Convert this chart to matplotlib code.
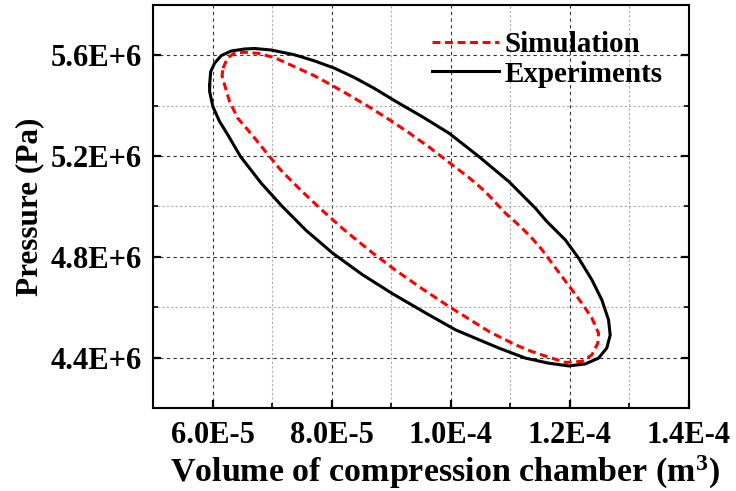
import matplotlib
matplotlib.use('Agg')
import matplotlib.pyplot as plt
from matplotlib.ticker import FixedLocator, MultipleLocator

# 实验 P-V 曲线 (体积 1e-5 m^3, 压力 1e6 Pa)
exp_v = [5.950, 5.967, 6.034, 6.146, 6.313, 6.536, 6.704, 6.983, 7.374, 7.709,
         8.044, 8.379, 8.714, 9.077, 9.523, 9.970, 10.473, 10.975, 11.422, 11.611,
         11.925, 12.147, 12.370, 12.538, 12.650, 12.678, 12.621, 12.482, 12.260, 11.980,
         11.645, 11.255, 10.807, 10.082, 9.580, 9.020, 8.518, 8.015, 7.570, 7.178,
         6.821, 6.469, 6.256, 6.117, 6.005, 5.950, 5.950]
exp_p = [5.483, 5.535, 5.569, 5.599, 5.617, 5.625, 5.627, 5.621, 5.602, 5.578,
         5.549, 5.512, 5.469, 5.417, 5.356, 5.291, 5.198, 5.099, 4.993, 4.941,
         4.867, 4.795, 4.709, 4.629, 4.550, 4.490, 4.438, 4.398, 4.375, 4.367,
         4.378, 4.398, 4.438, 4.510, 4.577, 4.654, 4.729, 4.815, 4.905, 4.998,
         5.091, 5.198, 5.284, 5.337, 5.396, 5.456, 5.483]

# 仿真 P-V 曲线
sim_v = [6.173, 6.256, 6.369, 6.536, 6.759, 7.038, 7.429, 7.709, 7.988, 8.323,
         8.658, 8.965, 9.300, 9.635, 9.970, 10.305, 10.585, 10.920, 11.168, 11.365,
         11.533, 11.700, 11.868, 12.035, 12.203, 12.370, 12.482, 12.471, 12.370, 12.203,
         11.925, 11.645, 11.365, 11.087, 10.807, 10.640, 10.417, 9.970, 9.523, 9.077,
         8.685, 8.240, 7.848, 7.457, 7.139, 6.926, 6.732, 6.591, 6.424, 6.285,
         6.201, 6.159, 6.173]
sim_p = [5.549, 5.591, 5.608, 5.612, 5.608, 5.591, 5.549, 5.519, 5.483, 5.438,
         5.391, 5.345, 5.292, 5.236, 5.175, 5.115, 5.058, 4.973, 4.921, 4.874,
         4.828, 4.775, 4.722, 4.669, 4.616, 4.557, 4.497, 4.458, 4.411, 4.385,
         4.381, 4.402, 4.424, 4.451, 4.484, 4.504, 4.537, 4.603, 4.673, 4.746,
         4.816, 4.901, 4.983, 5.070, 5.146, 5.207, 5.264, 5.304, 5.350, 5.416,
         5.483, 5.518, 5.549]

x_ticks = [6.0e-5, 8.0e-5, 1.0e-4, 1.2e-4, 1.4e-4]
x_labels = ['6.0E-5', '8.0E-5', '1.0E-4', '1.2E-4', '1.4E-4']
y_ticks = [4.4e6, 4.8e6, 5.2e6, 5.6e6]
y_labels = ['4.4E+6', '4.8E+6', '5.2E+6', '5.6E+6']

plt.rcParams['font.family'] = ['Liberation Serif', 'DejaVu Serif']
plt.rcParams['font.weight'] = 'bold'
plt.rcParams['mathtext.fontset'] = 'custom'
plt.rcParams['mathtext.rm'] = 'Liberation Serif:bold'
plt.rcParams['mathtext.it'] = 'Liberation Serif:bold'
plt.rcParams['mathtext.bf'] = 'Liberation Serif:bold'

fig = plt.figure(figsize=(7.36, 4.91), dpi=100)
ax = fig.add_axes([0.208, 0.169, 0.728, 0.821])

ax.plot([v * 1e-5 for v in sim_v], [p * 1e6 for p in sim_p], color='red',
        linestyle=(0, (2.6, 1.5)), linewidth=2.2, label='Simulation')
ax.plot([v * 1e-5 for v in exp_v], [p * 1e6 for p in exp_p], color='black',
        linestyle='-', linewidth=2.2, solid_joinstyle='round', label='Experiments')

ax.set_xlim(5e-5, 1.4e-4)
ax.set_ylim(4.2e6, 5.8e6)

ax.xaxis.set_major_locator(FixedLocator(x_ticks))
ax.set_xticklabels(x_labels)
ax.yaxis.set_major_locator(FixedLocator(y_ticks))
ax.set_yticklabels(y_labels)
ax.xaxis.set_minor_locator(MultipleLocator(1e-5))
ax.yaxis.set_minor_locator(MultipleLocator(2e5))

# 网格：主刻度深色虚线，次刻度浅灰点线
ax.grid(which='major', color='#333333', linestyle=(0, (3, 3)), linewidth=0.8)
ax.grid(which='minor', color='#aaaaaa', linestyle=(0, (2, 2)), linewidth=0.8)
ax.set_axisbelow(True)

ax.tick_params(which='major', direction='in', length=6, width=1.6, labelsize=22,
               right=True, top=False)
ax.tick_params(which='minor', direction='in', length=3.5, width=1.2, right=True, top=False)
ax.tick_params(axis='x', which='major', pad=9)
ax.tick_params(axis='y', which='major', pad=8)
for lab in ax.get_xticklabels() + ax.get_yticklabels():
    lab.set_fontweight('bold')

for sp in ax.spines.values():
    sp.set_linewidth(1.5)

ax.set_xlabel('Volume of compression chamber (m$^3$)', fontsize=24.5, fontweight='bold', labelpad=3)
ax.xaxis.label.set_x(0.545)
ax.set_ylabel('Pressure (Pa)', fontsize=22.5, fontweight='bold', labelpad=5)

leg = ax.legend(loc='upper right', frameon=False, fontsize=21, handlelength=2.3,
                handletextpad=0.2, labelspacing=0.08, borderaxespad=0.3,
                bbox_to_anchor=(0.99, 0.985))

fig.savefig('out.png', dpi=100)
